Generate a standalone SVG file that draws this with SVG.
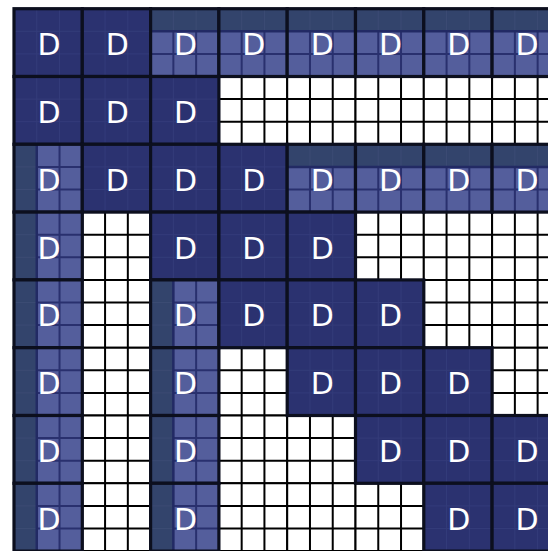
<svg xmlns="http://www.w3.org/2000/svg" xmlns:xlink="http://www.w3.org/1999/xlink" width="548" height="551" viewBox="0 0 548 551">
<style>
text{font-family:"DejaVu Sans","Liberation Sans",sans-serif;font-size:30px;fill:#ffffff;text-anchor:middle}
.ol{fill:none;stroke:#0c0f1e;stroke-width:3.2}
</style>
<defs>
<g id="white">
<rect width="68.3" height="67.8" fill="#ffffff"/>
<path d="M22.77 0V67.8M45.53 0V67.8M0 22.6H68.3M0 45.2H68.3M0 0H68.3V67.8H0Z" fill="none" stroke="#000000" stroke-width="2"/>
</g>
<g id="full">
<rect width="68.3" height="67.8" fill="#2b3270"/>
<path d="M22.77 0V67.8M45.53 0V67.8M0 22.6H68.3M0 45.2H68.3" stroke="#343c7a" stroke-width="1"/>
<rect width="68.3" height="67.8" class="ol"/>
</g>
<g id="top">
<rect width="68.3" height="67.8" fill="#545e9c"/>
<rect width="68.3" height="22.6" fill="#33446c"/>
<path d="M22.77 0V22.6M45.53 0V22.6" stroke="#3c4b74" stroke-width="1"/>
<path d="M22.77 22.6V67.8M45.53 22.6V67.8M0 45.2H68.3" stroke="#29306e" stroke-width="2"/>
<path d="M0 22.6H68.3" stroke="#222a64" stroke-width="2.5"/>
<rect width="68.3" height="67.8" class="ol"/>
</g>
<g id="left">
<rect width="68.3" height="67.8" fill="#545e9c"/>
<rect width="22.77" height="67.8" fill="#33446c"/>
<path d="M0 22.6H22.77M0 45.2H22.77" stroke="#3c4b74" stroke-width="1"/>
<path d="M22.77 22.6H68.3M22.77 45.2H68.3M45.53 0V67.8" stroke="#29306e" stroke-width="2"/>
<path d="M22.77 0V67.8" stroke="#222a64" stroke-width="2.5"/>
<rect width="68.3" height="67.8" class="ol"/>
</g>
</defs>
<g id="connectors"/>
<g id="white-tiles">
<g id="w-r1-c3" transform="translate(218.9,76.5)"><use xlink:href="#white"/></g>
<g id="w-r1-c4" transform="translate(287.2,76.5)"><use xlink:href="#white"/></g>
<g id="w-r1-c5" transform="translate(355.5,76.5)"><use xlink:href="#white"/></g>
<g id="w-r1-c6" transform="translate(423.8,76.5)"><use xlink:href="#white"/></g>
<g id="w-r1-c7" transform="translate(492.1,76.5)"><use xlink:href="#white"/></g>
<g id="w-r3-c1" transform="translate(82.3,212.1)"><use xlink:href="#white"/></g>
<g id="w-r3-c5" transform="translate(355.5,212.1)"><use xlink:href="#white"/></g>
<g id="w-r3-c6" transform="translate(423.8,212.1)"><use xlink:href="#white"/></g>
<g id="w-r3-c7" transform="translate(492.1,212.1)"><use xlink:href="#white"/></g>
<g id="w-r4-c1" transform="translate(82.3,279.9)"><use xlink:href="#white"/></g>
<g id="w-r4-c6" transform="translate(423.8,279.9)"><use xlink:href="#white"/></g>
<g id="w-r4-c7" transform="translate(492.1,279.9)"><use xlink:href="#white"/></g>
<g id="w-r5-c1" transform="translate(82.3,347.7)"><use xlink:href="#white"/></g>
<g id="w-r5-c3" transform="translate(218.9,347.7)"><use xlink:href="#white"/></g>
<g id="w-r5-c7" transform="translate(492.1,347.7)"><use xlink:href="#white"/></g>
<g id="w-r6-c1" transform="translate(82.3,415.5)"><use xlink:href="#white"/></g>
<g id="w-r6-c3" transform="translate(218.9,415.5)"><use xlink:href="#white"/></g>
<g id="w-r6-c4" transform="translate(287.2,415.5)"><use xlink:href="#white"/></g>
<g id="w-r7-c1" transform="translate(82.3,483.3)"><use xlink:href="#white"/></g>
<g id="w-r7-c3" transform="translate(218.9,483.3)"><use xlink:href="#white"/></g>
<g id="w-r7-c4" transform="translate(287.2,483.3)"><use xlink:href="#white"/></g>
<g id="w-r7-c5" transform="translate(355.5,483.3)"><use xlink:href="#white"/></g>
</g>
<g id="d-tiles">
<g id="d-r0-c0" transform="translate(14,8.7)"><use xlink:href="#full"/><text x="35" y="46.5">D</text></g>
<g id="d-r0-c1" transform="translate(82.3,8.7)"><use xlink:href="#full"/><text x="35" y="46.5">D</text></g>
<g id="d-r0-c2" transform="translate(150.6,8.7)"><use xlink:href="#top"/><text x="35" y="46.5">D</text></g>
<g id="d-r0-c3" transform="translate(218.9,8.7)"><use xlink:href="#top"/><text x="35" y="46.5">D</text></g>
<g id="d-r0-c4" transform="translate(287.2,8.7)"><use xlink:href="#top"/><text x="35" y="46.5">D</text></g>
<g id="d-r0-c5" transform="translate(355.5,8.7)"><use xlink:href="#top"/><text x="35" y="46.5">D</text></g>
<g id="d-r0-c6" transform="translate(423.8,8.7)"><use xlink:href="#top"/><text x="35" y="46.5">D</text></g>
<g id="d-r0-c7" transform="translate(492.1,8.7)"><use xlink:href="#top"/><text x="35" y="46.5">D</text></g>
<g id="d-r1-c0" transform="translate(14,76.5)"><use xlink:href="#full"/><text x="35" y="46.5">D</text></g>
<g id="d-r1-c1" transform="translate(82.3,76.5)"><use xlink:href="#full"/><text x="35" y="46.5">D</text></g>
<g id="d-r1-c2" transform="translate(150.6,76.5)"><use xlink:href="#full"/><text x="35" y="46.5">D</text></g>
<g id="d-r2-c0" transform="translate(14,144.3)"><use xlink:href="#left"/><text x="35" y="46.5">D</text></g>
<g id="d-r2-c1" transform="translate(82.3,144.3)"><use xlink:href="#full"/><text x="35" y="46.5">D</text></g>
<g id="d-r2-c2" transform="translate(150.6,144.3)"><use xlink:href="#full"/><text x="35" y="46.5">D</text></g>
<g id="d-r2-c3" transform="translate(218.9,144.3)"><use xlink:href="#full"/><text x="35" y="46.5">D</text></g>
<g id="d-r2-c4" transform="translate(287.2,144.3)"><use xlink:href="#top"/><text x="35" y="46.5">D</text></g>
<g id="d-r2-c5" transform="translate(355.5,144.3)"><use xlink:href="#top"/><text x="35" y="46.5">D</text></g>
<g id="d-r2-c6" transform="translate(423.8,144.3)"><use xlink:href="#top"/><text x="35" y="46.5">D</text></g>
<g id="d-r2-c7" transform="translate(492.1,144.3)"><use xlink:href="#top"/><text x="35" y="46.5">D</text></g>
<g id="d-r3-c0" transform="translate(14,212.1)"><use xlink:href="#left"/><text x="35" y="46.5">D</text></g>
<g id="d-r3-c2" transform="translate(150.6,212.1)"><use xlink:href="#full"/><text x="35" y="46.5">D</text></g>
<g id="d-r3-c3" transform="translate(218.9,212.1)"><use xlink:href="#full"/><text x="35" y="46.5">D</text></g>
<g id="d-r3-c4" transform="translate(287.2,212.1)"><use xlink:href="#full"/><text x="35" y="46.5">D</text></g>
<g id="d-r4-c0" transform="translate(14,279.9)"><use xlink:href="#left"/><text x="35" y="46.5">D</text></g>
<g id="d-r4-c2" transform="translate(150.6,279.9)"><use xlink:href="#left"/><text x="35" y="46.5">D</text></g>
<g id="d-r4-c3" transform="translate(218.9,279.9)"><use xlink:href="#full"/><text x="35" y="46.5">D</text></g>
<g id="d-r4-c4" transform="translate(287.2,279.9)"><use xlink:href="#full"/><text x="35" y="46.5">D</text></g>
<g id="d-r4-c5" transform="translate(355.5,279.9)"><use xlink:href="#full"/><text x="35" y="46.5">D</text></g>
<g id="d-r5-c0" transform="translate(14,347.7)"><use xlink:href="#left"/><text x="35" y="46.5">D</text></g>
<g id="d-r5-c2" transform="translate(150.6,347.7)"><use xlink:href="#left"/><text x="35" y="46.5">D</text></g>
<g id="d-r5-c4" transform="translate(287.2,347.7)"><use xlink:href="#full"/><text x="35" y="46.5">D</text></g>
<g id="d-r5-c5" transform="translate(355.5,347.7)"><use xlink:href="#full"/><text x="35" y="46.5">D</text></g>
<g id="d-r5-c6" transform="translate(423.8,347.7)"><use xlink:href="#full"/><text x="35" y="46.5">D</text></g>
<g id="d-r6-c0" transform="translate(14,415.5)"><use xlink:href="#left"/><text x="35" y="46.5">D</text></g>
<g id="d-r6-c2" transform="translate(150.6,415.5)"><use xlink:href="#left"/><text x="35" y="46.5">D</text></g>
<g id="d-r6-c5" transform="translate(355.5,415.5)"><use xlink:href="#full"/><text x="35" y="46.5">D</text></g>
<g id="d-r6-c6" transform="translate(423.8,415.5)"><use xlink:href="#full"/><text x="35" y="46.5">D</text></g>
<g id="d-r6-c7" transform="translate(492.1,415.5)"><use xlink:href="#full"/><text x="35" y="46.5">D</text></g>
<g id="d-r7-c0" transform="translate(14,483.3)"><use xlink:href="#left"/><text x="35" y="46.5">D</text></g>
<g id="d-r7-c2" transform="translate(150.6,483.3)"><use xlink:href="#left"/><text x="35" y="46.5">D</text></g>
<g id="d-r7-c6" transform="translate(423.8,483.3)"><use xlink:href="#full"/><text x="35" y="46.5">D</text></g>
<g id="d-r7-c7" transform="translate(492.1,483.3)"><use xlink:href="#full"/><text x="35" y="46.5">D</text></g>
</g>
</svg>
